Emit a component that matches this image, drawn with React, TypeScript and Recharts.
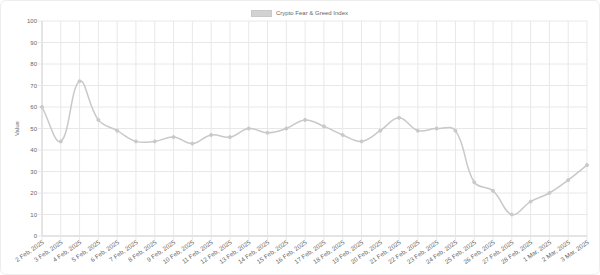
import React from 'react';
import { LineChart, Line, XAxis, YAxis, CartesianGrid } from 'recharts';

const dates = [
  '2 Feb, 2025', '3 Feb, 2025', '4 Feb, 2025', '5 Feb, 2025', '6 Feb, 2025', '7 Feb, 2025',
  '8 Feb, 2025', '9 Feb, 2025', '10 Feb, 2025', '11 Feb, 2025', '12 Feb, 2025', '13 Feb, 2025',
  '14 Feb, 2025', '15 Feb, 2025', '16 Feb, 2025', '17 Feb, 2025', '18 Feb, 2025', '19 Feb, 2025',
  '20 Feb, 2025', '21 Feb, 2025', '22 Feb, 2025', '23 Feb, 2025', '24 Feb, 2025', '25 Feb, 2025',
  '26 Feb, 2025', '27 Feb, 2025', '28 Feb, 2025', '1 Mar, 2025', '2 Mar, 2025', '3 Mar, 2025',
];

const fearGreed = [
  60, 44, 72, 54, 49, 44, 44, 46, 43, 47, 46, 50, 48, 50, 54,
  51, 47, 44, 49, 55, 49, 50, 49, 25, 21, 10, 16, 20, 26, 33,
];

const yTicks = [0, 10, 20, 30, 40, 50, 60, 70, 80, 90, 100];

const data = dates.map((d, i) => ({ date: d, value: fearGreed[i] }));

const FONT = "'Liberation Sans', Arial, Helvetica, sans-serif";
const LINE = '#c9c9c9';
const GRID = '#e8e8e8';

// chart.js style cubic spline (tension 0.4)
const chartJsCurve = (ctx: any) => {
  let pts: number[][] = [];
  const t = 0.4;
  return {
    areaStart() {},
    areaEnd() {},
    lineStart() { pts = []; },
    point(x: number, y: number) { pts.push([+x, +y]); },
    lineEnd() {
      const n = pts.length;
      if (!n) return;
      const cps = pts.map((p, i) => {
        const a = pts[Math.max(i - 1, 0)];
        const c = pts[Math.min(i + 1, n - 1)];
        const d01 = Math.hypot(p[0] - a[0], p[1] - a[1]);
        const d12 = Math.hypot(c[0] - p[0], c[1] - p[1]);
        let s01 = d01 / (d01 + d12);
        let s12 = d12 / (d01 + d12);
        if (!isFinite(s01)) s01 = 0;
        if (!isFinite(s12)) s12 = 0;
        const fa = t * s01;
        const fb = t * s12;
        return {
          prev: [p[0] - fa * (c[0] - a[0]), p[1] - fa * (c[1] - a[1])],
          next: [p[0] + fb * (c[0] - a[0]), p[1] + fb * (c[1] - a[1])],
        };
      });
      ctx.moveTo(pts[0][0], pts[0][1]);
      for (let i = 1; i < n; i++) {
        const c1 = cps[i - 1].next;
        const c2 = cps[i].prev;
        ctx.bezierCurveTo(c1[0], c1[1], c2[0], c2[1], pts[i][0], pts[i][1]);
      }
    },
  };
};

const DateTick = ({ x, y, payload }: any) => (
  <g transform={`translate(${x},${y})`}>
    <text
      x={0}
      y={0}
      dy={4}
      textAnchor="end"
      transform="rotate(-35)"
      fontSize={6.2}
      fontFamily={FONT}
      fill="#666"
    >
      {payload.value}
    </text>
  </g>
);

const YTitle = ({ viewBox }: any) => {
  const cx = viewBox.x + 9;
  const cy = viewBox.y + viewBox.height / 2;
  return (
    <text
      x={cx}
      y={cy}
      textAnchor="middle"
      dominantBaseline="central"
      transform={`rotate(-90, ${cx}, ${cy})`}
      fontSize={6}
      fontFamily={FONT}
      fill="#666"
    >
      Value
    </text>
  );
};

export default function App() {
  return (
    <div style={{ position: 'relative', width: 600, height: 275, background: '#fff' }}>
      <style>{`body{margin:0}`}</style>
      <LineChart width={600} height={275} data={data} margin={{ top: 21, right: 13, bottom: 0, left: 8 }}>
        <CartesianGrid stroke={GRID} strokeWidth={1} />
        <XAxis
          dataKey="date"
          interval={0}
          height={39}
          tick={<DateTick />}
          tickSize={4}
          tickMargin={0}
          tickLine={{ stroke: GRID }}
          axisLine={{ stroke: '#d6d6d6' }}
        />
        <YAxis
          width={34}
          domain={[0, 100]}
          ticks={yTicks}
          interval={0}
          tickSize={4}
          tickMargin={1}
          tickLine={{ stroke: GRID }}
          axisLine={{ stroke: '#d6d6d6' }}
          tick={{ fontSize: 6, fontFamily: FONT, fill: '#666' }}
          label={<YTitle />}
        />
        <Line
          dataKey="value"
          type={chartJsCurve as any}
          stroke={LINE}
          strokeWidth={1.5}
          dot={{ r: 1.5, fill: LINE, stroke: LINE, strokeWidth: 1 }}
          activeDot={false}
          isAnimationActive={false}
        />
      </LineChart>
      <div
        style={{
          position: 'absolute',
          top: 9,
          left: 251,
          display: 'flex',
          alignItems: 'center',
          fontFamily: FONT,
          fontSize: 6,
          color: '#666',
          lineHeight: '8px',
        }}
      >
        <span
          style={{
            display: 'inline-block',
            width: 21,
            height: 7,
            background: '#d2d2d2',
            border: '0.5px solid #c9c9c9',
            boxSizing: 'border-box',
            marginRight: 4,
          }}
        />
        <span>Crypto Fear &amp; Greed Index</span>
      </div>
      <div
        style={{
          position: 'absolute',
          inset: 0,
          border: '1px solid #ededed',
          borderRadius: 6,
          pointerEvents: 'none',
        }}
      />
    </div>
  );
}
